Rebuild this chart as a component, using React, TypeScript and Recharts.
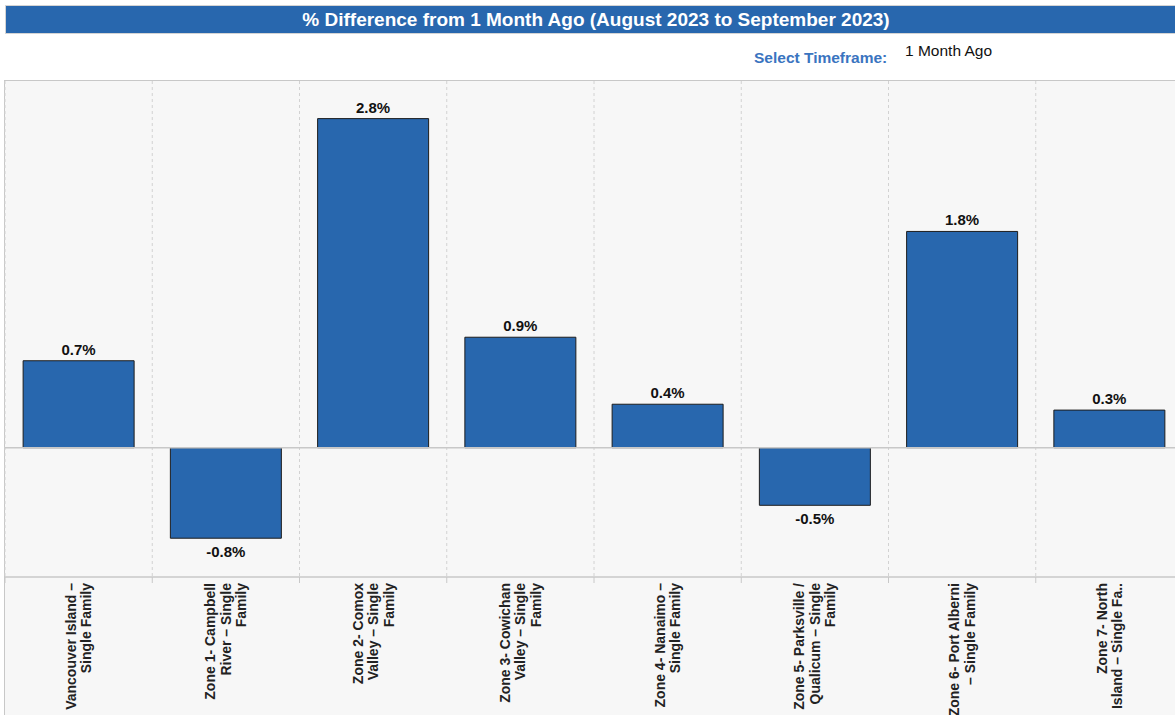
import { BarChart, Bar, XAxis, YAxis, CartesianGrid, ReferenceLine, LabelList } from 'recharts';

const regions = [
  'Vancouver Island – Single Family',
  'Zone 1- Campbell River – Single Family',
  'Zone 2- Comox Valley – Single Family',
  'Zone 3- Cowichan Valley – Single Family',
  'Zone 4- Nanaimo – Single Family',
  'Zone 5- Parksville / Qualicum – Single Family',
  'Zone 6- Port Alberni – Single Family',
  'Zone 7- North Island – Single Family',
];

// % change vs one month earlier
const pctChange = [0.74, -0.77, 2.8, 0.94, 0.37, -0.49, 1.84, 0.32];

const tickLines = [
  ['Vancouver Island –', 'Single Family'],
  ['Zone 1- Campbell', 'River – Single', 'Family'],
  ['Zone 2- Comox', 'Valley – Single', 'Family'],
  ['Zone 3- Cowichan', 'Valley – Single', 'Family'],
  ['Zone 4- Nanaimo –', 'Single Family'],
  ['Zone 5- Parksville /', 'Qualicum – Single', 'Family'],
  ['Zone 6- Port Alberni', '– Single Family'],
  ['Zone 7- North', 'Island – Single Fa..'],
];

const chartData = regions.map((name, i) => ({ name, value: pctChange[i] }));

const FONT = '"Liberation Sans", Arial, Helvetica, sans-serif';
const BLUE = '#2867ae';
const CHART_W = 1190;
const CHART_H = 715;
const MARGIN = { top: 81, right: 7, bottom: 0, left: 5 };
const PLOT_W = CHART_W - MARGIN.left - MARGIN.right;

const CategoryTick = (props: any) => {
  const { x, y, payload } = props;
  const idx = regions.indexOf(payload.value);
  const lines = tickLines[idx] || [payload.value];
  const band = PLOT_W / regions.length;
  const step = 15.5;
  const first = -((lines.length - 1) * step) / 2 + 5;
  const ty = y;
  return (
    <g>
      <line x1={x - band / 2} x2={x - band / 2} y1={577} y2={583} stroke="#c8c8c8" />
      <text
        transform={`rotate(-90, ${x}, ${ty})`}
        x={x}
        y={ty}
        textAnchor="end"
        fontSize={14}
        fontWeight="bold"
        fill="#222"
        fontFamily={FONT}
      >
        {lines.map((l, i) => (
          <tspan key={i} x={x} dy={i === 0 ? first : step}>
            {l}
          </tspan>
        ))}
      </text>
    </g>
  );
};

const ValueLabel = (props: any) => {
  const { x, y, width, height, value } = props;
  const top = Math.min(y, y + height);
  const bottom = Math.max(y, y + height);
  const ly = value >= 0 ? top - 6 : bottom + 19;
  return (
    <text x={x + width / 2} y={ly} textAnchor="middle" fontSize={15} fontWeight="bold" fill="#111" fontFamily={FONT}>
      {Number(value).toFixed(1)}%
    </text>
  );
};

export default function App() {
  return (
    <div
      style={{
        position: 'fixed',
        left: 0,
        top: 0,
        width: 1175,
        height: 715,
        overflow: 'hidden',
        background: '#fff',
        fontFamily: FONT,
      }}
    >
      {/* title bar */}
      <div
        style={{
          position: 'absolute',
          left: 5,
          top: 5,
          width: 1180,
          height: 27,
          background: BLUE,
          borderTop: '1px solid #d4d4d4',
          borderLeft: '1px solid #d4d4d4',
          borderBottom: '1px solid #d4d4d4',
          color: '#fff',
          fontWeight: 'bold',
          fontSize: 19,
          lineHeight: '27px',
          textAlign: 'center',
        }}
      >
        % Difference from 1 Month Ago (August 2023 to September 2023)
      </div>

      {/* timeframe selector */}
      <div style={{ position: 'absolute', left: 754, top: 49, fontSize: 15.5, fontWeight: 'bold', color: '#3a74c0' }}>
        Select Timeframe:
      </div>
      <div style={{ position: 'absolute', left: 905, top: 42, fontSize: 15.5, color: '#111' }}>1 Month Ago</div>

      {/* panel background */}
      <div
        style={{
          position: 'absolute',
          left: 4,
          top: 80,
          width: 1200,
          height: 650,
          background: '#f7f7f7',
          borderLeft: '1.5px solid #c8c8c8',
          borderTop: '1.5px solid #c8c8c8',
        }}
      />

      <div style={{ position: 'absolute', left: 0, top: 0 }}>
        <BarChart width={CHART_W} height={CHART_H} data={chartData} margin={MARGIN} barCategoryGap="12.3%">
          <CartesianGrid
            horizontal={false}
            stroke="#d2d2d2"
            strokeDasharray="3 3"
            verticalCoordinatesGenerator={({ offset }: any) =>
              regions.map((_, i) => offset.left + (i * offset.width) / regions.length)
            }
          />
          <XAxis
            dataKey="name"
            height={138}
            interval={0}
            axisLine={{ stroke: '#c8c8c8', strokeWidth: 1.5 }}
            tickLine={false}
            tickSize={0}
            tickMargin={6}
            tick={<CategoryTick />}
          />
          <YAxis hide type="number" domain={[-1.1, 3.12]} />
          <ReferenceLine y={0} stroke="#c8c8c8" strokeWidth={1.5} />
          <Bar dataKey="value" fill={BLUE} stroke="#1d1d1d" strokeWidth={1} isAnimationActive={false}>
            <LabelList dataKey="value" content={<ValueLabel />} />
          </Bar>
        </BarChart>
      </div>
    </div>
  );
}
